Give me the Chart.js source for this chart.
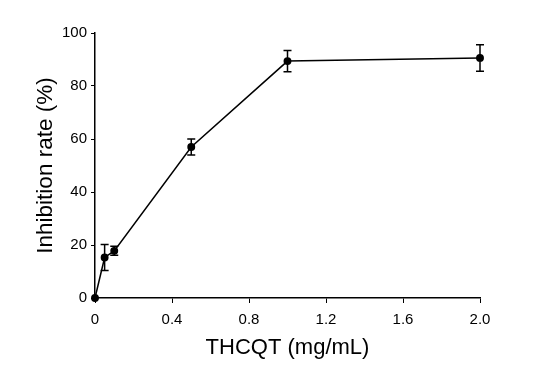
<!DOCTYPE html>
<html><head><meta charset="utf-8">
<script src="https://cdn.jsdelivr.net/npm/chart.js@4/dist/chart.umd.min.js"></script>
<style>html,body{margin:0;padding:0;background:#fff;}#wrap{width:546px;height:367px;}</style>
</head><body><div id="wrap"><canvas id="c" width="546" height="367"></canvas></div>
<script>
const concentrations = [0, 0.05, 0.1, 0.5, 1.0, 2.0];
const inhibition = [0, 15.3, 17.8, 57.0, 89.4, 90.6];
const errors = [0, 4.9, 1.7, 3.0, 4.0, 5.0];
const xTicks = [0, 0.4, 0.8, 1.2, 1.6, 2.0];
const yTicks = [0, 20, 40, 60, 80, 100];

const errorBars = {
  id: 'errorBars',
  afterDatasetsDraw(chart) {
    const ctx = chart.ctx, xs = chart.scales.x, ys = chart.scales.y;
    ctx.save();
    ctx.strokeStyle = '#000';
    ctx.lineWidth = 1.5;
    concentrations.forEach((c, i) => {
      const e = errors[i];
      if (!e) return;
      const px = xs.getPixelForValue(c);
      const top = ys.getPixelForValue(inhibition[i] + e);
      const bot = ys.getPixelForValue(inhibition[i] - e);
      ctx.beginPath();
      ctx.moveTo(px, top); ctx.lineTo(px, bot);
      ctx.moveTo(px - 4, top); ctx.lineTo(px + 4, top);
      ctx.moveTo(px - 4, bot); ctx.lineTo(px + 4, bot);
      ctx.stroke();
    });
    ctx.restore();
  }
};

new Chart(document.getElementById('c'), {
  type: 'scatter',
  data: {
    datasets: [{
      data: concentrations.map((c, i) => ({x: c, y: inhibition[i]})),
      showLine: true,
      borderColor: '#000',
      borderWidth: 1.5,
      backgroundColor: '#000',
      pointRadius: 3.2,
      pointBackgroundColor: '#000',
      pointBorderColor: '#000',
      clip: false
    }]
  },
  options: {
    responsive: false,
    animation: false,
    devicePixelRatio: 1,
    layout: { padding: { left: 0, right: 66, top: 33, bottom: 0 } },
    plugins: { legend: { display: false }, tooltip: { enabled: false } },
    scales: {
      x: {
        type: 'linear', min: 0, max: 2,
        afterFit(s) { s.height = 69; },
        afterBuildTicks(s) { s.ticks = xTicks.map(v => ({value: v})); },
        grid: { display: true, drawOnChartArea: false, drawTicks: true, tickLength: 5, color: '#000', lineWidth: 1 },
        border: { display: true, color: '#000', width: 1.5 },
        ticks: { color: '#000', font: { family: 'Liberation Sans', size: 15 }, padding: 8,
                 maxRotation: 0,
                 callback: v => v === 0 ? '0' : Number(v).toFixed(1) },
        title: { display: true, text: 'THCQT (mg/mL)', color: '#000',
                 font: { family: 'Liberation Sans', size: 22 }, padding: { top: 0, bottom: 6 } }
      },
      y: {
        type: 'linear', min: 0, max: 100,
        afterFit(s) { s.width = 95; },
        afterBuildTicks(s) { s.ticks = yTicks.map(v => ({value: v})); },
        grid: { display: true, drawOnChartArea: false, drawTicks: true, tickLength: 4, color: '#000', lineWidth: 1 },
        border: { display: true, color: '#000', width: 1.5 },
        ticks: { color: '#000', font: { family: 'Liberation Sans', size: 15 }, padding: 4 },
        title: { display: true, text: 'Inhibition rate (%)', color: '#000',
                 font: { family: 'Liberation Sans', size: 22.5 }, padding: { top: 32, bottom: 0 } }
      }
    }
  },
  plugins: [errorBars]
});
</script></body></html>
